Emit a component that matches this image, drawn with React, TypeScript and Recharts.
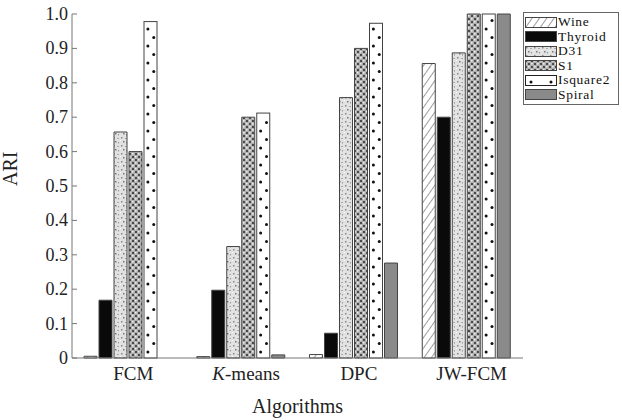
import { BarChart, Bar, XAxis, YAxis, Legend } from 'recharts';

const algorithms = ['FCM', 'K-means', 'DPC', 'JW-FCM'];
const wine = [0.005, 0.004, 0.01, 0.856];
const thyroid = [0.168, 0.197, 0.072, 0.7];
const d31 = [0.657, 0.324, 0.757, 0.887];
const s1 = [0.6, 0.7, 0.9, 1.0];
const isquare2 = [0.978, 0.712, 0.973, 1.0];
const spiral = [0, 0.009, 0.276, 1.0];
const yTicks = [0, 0.1, 0.2, 0.3, 0.4, 0.5, 0.6, 0.7, 0.8, 0.9, 1.0];

const data = algorithms.map((name, i) => ({
  name,
  Wine: wine[i],
  Thyroid: thyroid[i],
  D31: d31[i],
  S1: s1[i],
  Isquare2: isquare2[i],
  Spiral: spiral[i],
}));

const series = [
  { key: 'Wine', fill: 'url(#pat-wine)' },
  { key: 'Thyroid', fill: '#0a0a0a' },
  { key: 'D31', fill: 'url(#pat-d31)' },
  { key: 'S1', fill: 'url(#pat-s1)' },
  { key: 'Isquare2', fill: '#ffffff' },
  { key: 'Spiral', fill: '#8a8a8a' },
];

const font = '"Liberation Serif", "DejaVu Serif", serif';

const Patterns = () => (
  <svg width={0} height={0} style={{ position: 'absolute' }}>
    <defs>
      <pattern id="pat-wine" patternUnits="userSpaceOnUse" width={6} height={6} patternTransform="rotate(35)">
        <rect width={6} height={6} fill="#fff" />
        <line x1={0} y1={0} x2={0} y2={6} stroke="#666" strokeWidth={1.3} />
      </pattern>
      <pattern id="pat-d31" patternUnits="userSpaceOnUse" width={8} height={8}>
        <rect width={8} height={8} fill="#e2e2e2" />
        <rect x={1} y={1} width={1.5} height={1.5} fill="#888" />
        <rect x={5} y={2} width={2} height={1} fill="#aaa" />
        <rect x={3} y={5} width={1.5} height={1.5} fill="#777" />
        <rect x={6} y={6} width={1} height={1.5} fill="#999" />
        <rect x={0} y={4} width={1} height={1} fill="#fff" />
      </pattern>
      <pattern id="pat-s1" patternUnits="userSpaceOnUse" width={6} height={6}>
        <rect width={6} height={6} fill="#b0b0b0" />
        <rect x={0} y={0} width={2} height={2} fill="#4a4a4a" />
        <rect x={3} y={3} width={2} height={2} fill="#4a4a4a" />
        <rect x={3} y={0} width={1.5} height={1.5} fill="#f0f0f0" />
        <rect x={0} y={3} width={1.5} height={1.5} fill="#f0f0f0" />
      </pattern>
    </defs>
  </svg>
);

const DotBar = (props: any) => {
  const { x, y, width, height } = props;
  if (!height || height <= 0) return null;
  const dots = [];
  let k = 0;
  for (let cy = y + height - 6; cy > y + 3; cy -= 8.5) {
    const cx = k % 2 === 0 ? x + width * 0.3 : x + width * 0.75;
    dots.push(<circle key={k} cx={cx} cy={cy} r={1.5} fill="#111" />);
    k++;
  }
  return (
    <g>
      <rect x={x} y={y} width={width} height={height} fill="#fff" stroke="#444" strokeWidth={1} />
      {dots}
    </g>
  );
};

const YTick = (props: any) => {
  const { x, y, payload } = props;
  const v = payload.value;
  return (
    <g>
      <line x1={x + 4} x2={x + 9} y1={y} y2={y} stroke="#777" />
      <text x={x} y={y} dy={6} textAnchor="end" style={{ fontFamily: font, fontSize: 18 }} fill="#222">
        {v === 0 ? '0' : v.toFixed(1)}
      </text>
    </g>
  );
};

const XTick = (props: any) => {
  const { x, y, payload } = props;
  const label: string = payload.value;
  return (
    <text x={x} y={y} dx={5} dy={13} textAnchor="middle" style={{ fontFamily: font, fontSize: 19 }} fill="#222">
      {label.startsWith('K-') ? (
        <>
          <tspan fontStyle="italic">K</tspan>
          <tspan>{label.slice(1)}</tspan>
        </>
      ) : (
        label
      )}
    </text>
  );
};

const swatchFill: Record<string, string> = Object.fromEntries(series.map((s) => [s.key, s.fill]));

const LegendBox = () => (
  <div
    style={{
      border: '1px solid #666',
      background: '#fff',
      padding: '2px 2px 2px 1px',
      fontFamily: font,
      fontSize: 13.5,
      letterSpacing: 0.7,
      lineHeight: '14px',
      color: '#111',
      width: 91,
    }}
  >
    {series.map((s) => (
      <div key={s.key} style={{ display: 'flex', alignItems: 'center', height: 14.5 }}>
        <svg width={32} height={11} style={{ marginRight: 1, flexShrink: 0 }}>
          {s.key === 'Isquare2' ? (
            <g>
              <rect x={0.5} y={0.5} width={31} height={10} fill="#fff" stroke="#222" />
              <circle cx={6} cy={7} r={1.5} fill="#111" />
              <circle cx={26} cy={7} r={1.5} fill="#111" />
            </g>
          ) : (
            <rect x={0.5} y={0.5} width={31} height={10} fill={swatchFill[s.key]} stroke="#444" />
          )}
        </svg>
        <span>{s.key}</span>
      </div>
    ))}
  </div>
);

const App = () => {
  return (
    <div style={{ position: 'absolute', left: 0, top: 0, width: 622, height: 420, background: '#fff' }}>
      <Patterns />
      <BarChart
        width={622}
        height={420}
        data={data}
        margin={{ top: 14, right: 99, bottom: 0, left: 0 }}
        barCategoryGap={12}
        barGap={2}
      >
        <XAxis
          dataKey="name"
          height={62}
          tickLine={false}
          tickSize={0}
          tickMargin={9}
          stroke="#777"
          tick={<XTick />}
          label={{ value: 'Algorithms', position: 'insideBottom', offset: 7, style: { fontFamily: font, fontSize: 20 }, fill: '#222' }}
        />
        <YAxis
          width={72}
          domain={[0, 1]}
          ticks={yTicks}
          tickLine={false}
          tickSize={0}
          tickMargin={4}
          stroke="#777"
          interval={0}
          tick={<YTick />}
          label={{ value: 'ARI', angle: -90, position: 'insideLeft', offset: 10, style: { fontFamily: font, fontSize: 20 }, fill: '#222' }}
        />
        <Legend
          layout="vertical"
          align="center"
          verticalAlign="middle"
          wrapperStyle={{ top: 12, left: 523, width: 95 }}
          content={<LegendBox />}
        />
        {series.map((s) => (
          <Bar
            key={s.key}
            dataKey={s.key}
            fill={s.fill}
            stroke="#444"
            strokeWidth={1}
            isAnimationActive={false}
            shape={s.key === 'Isquare2' ? <DotBar /> : undefined}
          />
        ))}
      </BarChart>
    </div>
  );
};

export default App;
